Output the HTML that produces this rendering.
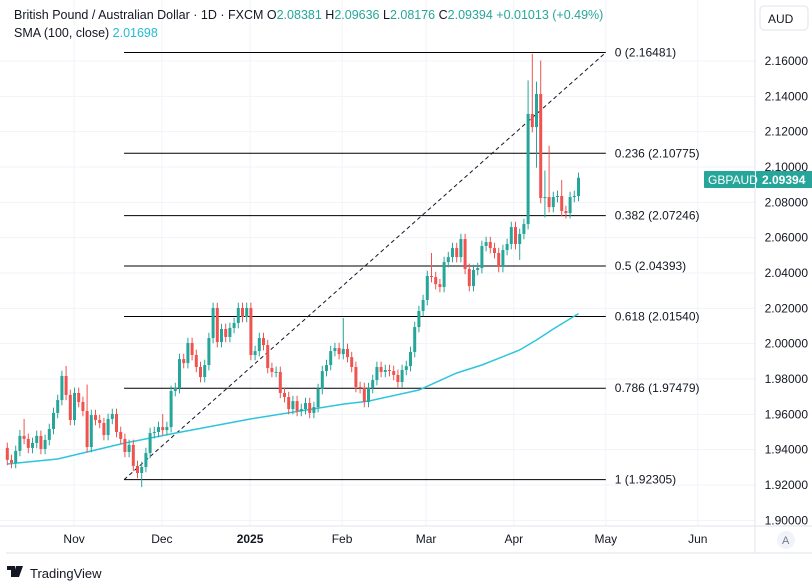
<!DOCTYPE html>
<html><head><meta charset="utf-8">
<style>
html,body{margin:0;padding:0;background:#fff;}
body{width:812px;height:588px;overflow:hidden;font-family:"Liberation Sans",sans-serif;position:relative;}
svg{position:absolute;left:0;top:0;}
</style></head>
<body>
<svg id="chart" width="812" height="588" font-family="Liberation Sans, sans-serif">
  <rect x="0" y="0" width="812" height="588" fill="#fff"/>
  <g id="grid"></g>
  <g id="fib"></g>
  <polyline id="sma" fill="none" stroke="#2cc5dd" stroke-width="1.5"/>
  <g id="candles"></g>
  <line x1="755" y1="0" x2="755" y2="553" stroke="#e0e3eb"/>
  <line x1="0" y1="526" x2="812" y2="526" stroke="#e0e3eb"/>
  <line x1="6" y1="553" x2="812" y2="553" stroke="#e0e3eb"/>
  <g id="yaxis" font-size="12" fill="#131722"></g>
  <g id="xaxis" font-size="12" fill="#131722"></g>
  <rect x="760" y="6" width="48" height="24" rx="4" fill="#fff" stroke="#e0e3eb"/>
  <text x="768" y="23" font-size="12" fill="#131722">AUD</text>
  <g>
    <rect x="704" y="171" width="51" height="17" rx="1" fill="#26a69a"/>
    <rect x="756" y="171" width="56" height="17" fill="#26a69a"/>
    <text x="708" y="184" font-size="12" fill="#fff">GBPAUD</text>
    <text x="762" y="184" font-size="12" fill="#fff" font-weight="bold">2.09394</text>
  </g>
  <circle cx="786" cy="540" r="9" fill="#f0f3fa"/>
  <text x="782" y="544" font-size="11" fill="#787b86">A</text>
  <g font-size="12.5">
    <text x="14" y="19" fill="#131722">British Pound / Australian Dollar · 1D · FXCM <tspan>O</tspan><tspan fill="#26a69a">2.08381</tspan> <tspan>H</tspan><tspan fill="#26a69a">2.09636</tspan> <tspan>L</tspan><tspan fill="#26a69a">2.08176</tspan> <tspan>C</tspan><tspan fill="#26a69a">2.09394 +0.01013 (+0.49%)</tspan></text>
    <text x="14" y="37" fill="#131722">SMA (100, close) <tspan fill="#22bcd6">2.01698</tspan></text>
  </g>
  <g>
    <path d="M7 566h8v11h-4v-7h-4z M16 566h3l-3 11h-3z M19 566h4l-4 11h-3z" fill="#131722"/>
    <text x="30" y="578" font-size="13" fill="#131722">TradingView</text>
  </g>
</svg>
<script>
const closes = [1.9342,1.9325,1.9393,1.9478,1.9461,1.9410,1.9438,1.9478,1.9404,1.9455,
1.9517,1.9608,1.9681,1.9817,1.9710,1.9568,1.9721,1.9670,1.9619,1.9415,
1.9596,1.9568,1.9551,1.9483,1.9574,1.9602,1.9500,1.9461,1.9387,1.9427,
1.9308,1.9268,1.9302,1.9381,1.9494,1.9500,1.9528,1.9511,1.9528,1.9732,
1.9749,1.9913,1.9890,2.0004,1.9936,1.9868,1.9811,1.9879,2.0032,2.0202,
2.0009,2.0083,2.0038,2.0089,2.0117,2.0202,2.0151,2.0202,1.9936,1.9958,
2.0032,1.9992,1.9862,1.9840,1.9840,1.9721,1.9698,1.9630,1.9675,1.9619,
1.9630,1.9664,1.9608,1.9641,1.9743,1.9845,1.9879,1.9958,1.9975,1.9941,
1.9970,1.9924,1.9868,1.9755,1.9749,1.9670,1.9749,1.9794,1.9868,1.9840,
1.9851,1.9845,1.9823,1.9783,1.9851,1.9873,1.9953,2.0094,2.0185,2.0247,
2.0383,2.0377,2.0337,2.0321,2.0462,2.0490,2.0541,2.0490,2.0592,2.0423,
2.0326,2.0417,2.0428,2.0553,2.0575,2.0541,2.0513,2.0434,2.0530,2.0564,
2.0660,2.0564,2.0621,2.0677,2.1300,2.1226,2.1413,2.0824,2.0830,2.0773,
2.0830,2.0836,2.0751,2.0739,2.0830,2.0836,2.0939];
const firstOpen = 1.9410;
const wickUp = [.003,.003,.003,.0034,.0096,.003,.003,.003,.003,.003,
.003,.003,.003,.003,.0057,.003,.003,.003,.003,.015,
.003,.003,.003,.003,.003,.003,.003,.003,.003,.003,
.003,.003,.003,.003,.003,.003,.003,.0074,.003,.003,
.003,.003,.003,.003,.003,.003,.003,.003,.003,.003,
.003,.003,.003,.003,.003,.003,.003,.003,.003,.003,
.003,.003,.003,.003,.003,.003,.003,.003,.003,.003,
.003,.003,.003,.003,.003,.003,.003,.003,.003,.003,
.0175,.003,.003,.003,.003,.003,.003,.003,.003,.003,
.003,.003,.003,.003,.003,.003,.003,.003,.003,.003,
.003,.013,.003,.003,.003,.003,.003,.003,.003,.003,
.003,.003,.003,.003,.003,.003,.003,.003,.003,.003,
.003,.003,.003,.003,.019,.034,.007,.019,.015,.029,
.003,.003,.009,.003,.003,.003,.003];
const wickDown = [.003,.003,.003,.003,.003,.003,.003,.003,.003,.003,
.003,.003,.003,.003,.003,.003,.003,.003,.003,.003,
.003,.003,.003,.003,.003,.003,.003,.003,.003,.003,
.003,.003,.008,.003,.003,.003,.003,.003,.003,.003,
.003,.003,.003,.003,.003,.003,.003,.003,.003,.003,
.003,.003,.003,.003,.003,.003,.003,.003,.003,.003,
.003,.003,.003,.003,.003,.003,.003,.003,.003,.003,
.003,.003,.003,.003,.003,.003,.003,.003,.003,.003,
.003,.003,.003,.003,.003,.003,.003,.003,.003,.003,
.003,.003,.003,.003,.003,.003,.003,.003,.003,.003,
.003,.003,.003,.003,.003,.003,.003,.003,.003,.003,
.003,.003,.003,.003,.003,.003,.003,.003,.003,.003,
.003,.003,.009,.003,.003,.003,.023,.003,.011,.003,
.003,.003,.003,.003,.003,.003,.003];
const smaBars = [0,12,28,40,58,80,86,98,107,113,122,126,130,136];
const smaVals = [1.9319,1.9347,1.9438,1.9494,1.9574,1.9658,1.9675,1.9738,1.9834,1.9879,1.9964,2.0021,2.0083,2.0170];
const priceTicks = ["2.16000","2.14000","2.12000","2.10000","2.08000","2.06000","2.04000","2.02000","2.00000","1.98000","1.96000","1.94000","1.92000","1.90000"];
const monthLabels = ["Nov","Dec","2025","Feb","Mar","Apr","May","Jun"];
const monthBars = [15.9,36.8,57.8,79.7,99.7,120.6,142.5,164.4];
const fibRatios = ["0","0.236","0.382","0.5","0.618","0.786","1"];
const fibHigh = 2.16481, fibLow = 1.92305;
const fibStartBar = 27.8, fibEndBar = 142.5;

const NS = "http://www.w3.org/2000/svg";
function y(p){ return 61 + (2.16 - p) * 1766.7; }
function x(i){ return 7.3 + i * 4.2; }
function mk(tag, attrs, parent){ const e = document.createElementNS(NS, tag); for (const k in attrs) e.setAttribute(k, attrs[k]); parent.appendChild(e); return e; }

const grid = document.getElementById('grid');
const yaxis = document.getElementById('yaxis');
priceTicks.forEach(t => {
  const py = y(parseFloat(t));
  const gl = mk('line', {x1:0, x2:755, y1:py, y2:py, stroke:'#f0f3fa'}, grid);
  
  
  const tx = mk('text', {x:808, y:py + 4, 'text-anchor':'end'}, yaxis);
  tx.textContent = t;
  
  
});
const xaxis = document.getElementById('xaxis');
monthLabels.forEach((m, k) => {
  const px = x(monthBars[k]);
  const gl = mk('line', {x1:px, x2:px, y1:0, y2:526, stroke:'#f0f3fa'}, grid);
  
  
  const tx = mk('text', {x:px, y:543, 'text-anchor':'middle', 'font-weight': m === '2025' ? 'bold' : 'normal'}, xaxis);
  tx.textContent = m;
  
  
});

const fib = document.getElementById('fib');
const fx1 = x(fibStartBar), fx2 = x(fibEndBar);
fibRatios.forEach(r => {
  const val = fibHigh - parseFloat(r) * (fibHigh - fibLow);
  const py = y(val);
  const ln = mk('line', {x1:fx1, x2:fx2, y1:py, y2:py, stroke:'#000', 'stroke-width':1}, fib);
  
  
  const tx = mk('text', {x:fx2 + 9, y:py + 4, 'font-size':12, fill:'#131722'}, fib);
  tx.textContent = r + ' (' + val.toFixed(5) + ')';
  
  
});
const trend = mk('line', {x1:fx1, y1:y(fibLow), x2:fx2, y2:y(fibHigh), stroke:'#131722', 'stroke-width':1, 'stroke-dasharray':'4 3'}, fib);



document.getElementById('sma').setAttribute('points', smaBars.map((b, k) => x(b).toFixed(1) + ',' + y(smaVals[k]).toFixed(1)).join(' '));

const cg = document.getElementById('candles');
closes.forEach((c, i) => {
  const o = i === 0 ? firstOpen : closes[i - 1];
  const up = c >= o;
  const col = up ? '#26a69a' : '#ef5350';
  const hi = Math.max(o, c) + wickUp[i], lo = Math.min(o, c) - wickDown[i];
  const g = mk('g', {}, cg);
  
  
  const cx = x(i);
  mk('line', {x1:cx, x2:cx, y1:y(hi), y2:y(lo), stroke:col, 'stroke-width':1}, g);
  const top = y(Math.max(o, c)), bot = y(Math.min(o, c));
  mk('rect', {x:cx - 1.5, y:top, width:3, height:Math.max(1, bot - top), fill:col}, g);
});
</script>
</body></html>
